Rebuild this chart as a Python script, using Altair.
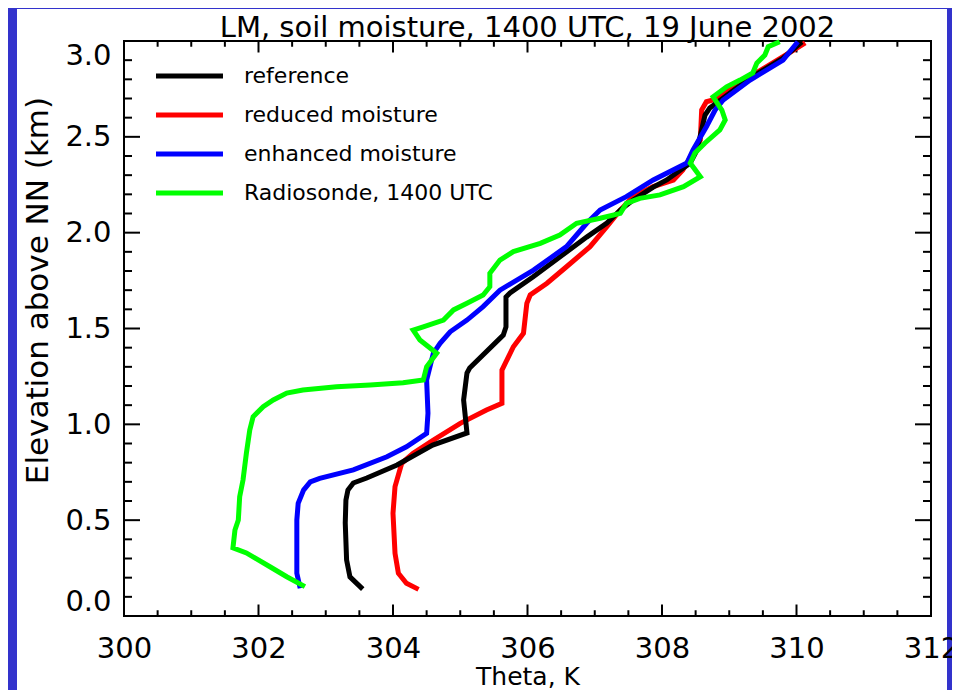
import altair as alt
import pandas as pd

# ---------------- data ----------------
series_names = ["reference", "reduced moisture", "enhanced moisture", "Radiosonde, 1400 UTC"]
series_colors = ["#000000", "#ff0000", "#0000ff", "#00ff00"]

ref_theta = [303.55, 303.36, 303.31, 303.29, 303.30, 303.33, 303.41, 303.61, 304.06, 304.59,
             305.10, 305.05, 305.10, 305.14, 305.64, 305.68, 305.68, 305.74, 306.08, 306.48,
             306.88, 307.18, 307.38, 307.57, 307.87, 308.07, 308.42, 308.52, 308.64, 308.71,
             309.31, 309.80, 310.08]
ref_z = [0.14, 0.204, 0.292, 0.485, 0.605, 0.657, 0.694, 0.72, 0.788, 0.892,
         0.955, 1.127, 1.268, 1.294, 1.466, 1.508, 1.664, 1.685, 1.769, 1.873,
         1.977, 2.05, 2.118, 2.17, 2.238, 2.275, 2.363, 2.431, 2.614, 2.65,
         2.807, 2.91, 2.995]

red_theta = [304.38, 304.20, 304.08, 304.03, 304.00, 304.03, 304.13, 304.30, 304.60, 305.00,
             305.39, 305.62, 305.62, 305.79, 305.94, 305.99, 306.04, 306.29, 306.58, 306.93,
             307.18, 307.38, 307.57, 307.87, 308.17, 308.31, 308.57, 308.59, 308.66, 308.76,
             309.31, 309.80, 310.13]
red_z = [0.139, 0.171, 0.223, 0.327, 0.536, 0.675, 0.797, 0.849, 0.918, 1.005,
         1.075, 1.11, 1.283, 1.405, 1.475, 1.631, 1.675, 1.736, 1.822, 1.927,
         2.031, 2.118, 2.188, 2.24, 2.275, 2.327, 2.483, 2.64, 2.683, 2.692,
         2.814, 2.918, 2.99]

blue_theta = [302.62, 302.57, 302.57, 302.59, 302.67, 302.77, 302.91, 303.41, 303.91, 304.20,
              304.50, 304.52, 304.50, 304.60, 304.70, 304.85, 305.10, 305.34, 305.59, 306.09,
              306.58, 306.88, 307.08, 307.47, 307.87, 308.37, 308.46, 308.66, 308.79, 308.91,
              309.31, 309.80, 310.02]
blue_z = [0.145, 0.223, 0.501, 0.588, 0.657, 0.70, 0.718, 0.762, 0.831, 0.883,
          0.953, 1.058, 1.231, 1.371, 1.423, 1.483, 1.544, 1.614, 1.70, 1.805,
          1.927, 2.049, 2.118, 2.188, 2.275, 2.363, 2.431, 2.553, 2.64, 2.692,
          2.796, 2.90, 2.996]

sonde_theta = [302.69, 302.42, 302.17, 301.82, 301.62, 301.65, 301.70, 301.72, 301.77, 301.82,
               301.87, 301.92, 302.07, 302.22, 302.42, 302.66, 303.16, 303.66, 304.15, 304.45,
               304.50, 304.65, 304.40, 304.30, 304.45, 304.75, 304.90, 305.10, 305.34, 305.44,
               305.44, 305.59, 305.79, 306.19, 306.48, 306.73, 307.08, 307.38, 307.47, 307.67,
               307.97, 308.32, 308.57, 308.42, 308.49, 308.64, 308.86, 308.94, 308.89, 308.76,
               308.96, 309.16, 309.35, 309.41, 309.53, 309.58, 309.75]
sonde_z = [0.153, 0.205, 0.257, 0.329, 0.355, 0.449, 0.501, 0.622, 0.71, 0.85,
           0.97, 1.04, 1.092, 1.127, 1.163, 1.179, 1.196, 1.205, 1.217, 1.231,
           1.30, 1.371, 1.44, 1.492, 1.509, 1.544, 1.597, 1.632, 1.675, 1.718,
           1.788, 1.857, 1.901, 1.944, 1.988, 2.049, 2.075, 2.101, 2.153, 2.179,
           2.197, 2.24, 2.292, 2.363, 2.416, 2.468, 2.536, 2.588, 2.64, 2.709,
           2.761, 2.796, 2.833, 2.885, 2.927, 2.97, 2.996]

x_labels = [300, 302, 304, 306, 308, 310, 312]
x_minor = [300.5, 301, 301.5, 302.5, 303, 303.5, 304.5, 305, 305.5, 306.5, 307, 307.5,
           308.5, 309, 309.5, 310.5, 311, 311.5]
y_labels = [0.0, 0.5, 1.0, 1.5, 2.0, 2.5, 3.0]
y_minor = [0.1, 0.2, 0.3, 0.4, 0.6, 0.7, 0.8, 0.9, 1.1, 1.2, 1.3, 1.4, 1.6, 1.7, 1.8, 1.9,
           2.1, 2.2, 2.3, 2.4, 2.6, 2.7, 2.8, 2.9]

title_text = "LM, soil moisture, 1400 UTC, 19 June 2002"
x_title = "Theta, K"
y_title = "Elevation above NN (km)"

# ---------------- layout / style ----------------
W, H = 807, 575
FONT = "DejaVu Sans"
BLUE_BG = "#3333cc"

rows = []
for name, th, zz in [(series_names[0], ref_theta, ref_z), (series_names[1], red_theta, red_z),
                     (series_names[2], blue_theta, blue_z), (series_names[3], sonde_theta, sonde_z)]:
    for i, (t, z) in enumerate(zip(th, zz)):
        rows.append({"series": name, "theta": t, "z": z, "i": i})
df = pd.DataFrame(rows)

xs = alt.Scale(domain=[300, 312], nice=False, zero=False)
ys = alt.Scale(domain=[0, 3], nice=False, zero=False)

xax = alt.Axis(values=x_labels, format="d", ticks=False, tickSize=0, domain=False, grid=False,
               labelFlush=False, labelOverlap=False, labelFontSize=29, labelFont=FONT,
               labelColor="black", labelPadding=18, titleFontSize=25, titleFont=FONT,
               titleFontWeight="normal", titleColor="black", titleBaseline="alphabetic",
               titleY=68, zindex=1)
yax = alt.Axis(values=y_labels, format=".1f", ticks=False, tickSize=0, domain=False, grid=False,
               labelFlush=True, labelOverlap=False, labelFontSize=29, labelFont=FONT,
               labelColor="black", labelPadding=13, titleFontSize=31, titleFont=FONT,
               titleFontWeight="normal", titleColor="black", titleBaseline="alphabetic",
               titleX=-77, titleY=249, zindex=1)

color_enc = alt.Color(
    "series:N",
    scale=alt.Scale(domain=series_names, range=series_colors),
    legend=alt.Legend(orient="none", legendX=38, legendY=7.5, title=None,
                      symbolType="M-1.345,0H1.345", symbolSize=2480, symbolStrokeWidth=5,
                      labelFontSize=22, labelFont=FONT, labelColor="black", labelLimit=0,
                      labelOffset=27, rowPadding=0, padding=0),
)

# white page panel behind everything
panel = alt.Chart(pd.DataFrame({"a": [0]})).mark_rect(color="white").encode(
    x=alt.value(-107), x2=alt.value(823), y=alt.value(-32), y2=alt.value(680)
)

def line_layer(name):
    return alt.Chart(df).transform_filter(alt.datum.series == name).mark_line(
        strokeWidth=5, strokeJoin="miter", strokeCap="butt"
    ).encode(
        x=alt.X("theta:Q", scale=xs, axis=xax, title=x_title),
        y=alt.Y("z:Q", scale=ys, axis=yax, title=y_title),
        color=color_enc,
        order="i:Q",
    )

def xtick_layer(vals, length, top):
    d = pd.DataFrame({"theta": vals})
    if top:
        yy, yy2 = alt.value(0), alt.value(length)
    else:
        yy, yy2 = alt.value(H), alt.value(H - length)
    return alt.Chart(d).mark_rule(color="black", strokeWidth=2).encode(
        x=alt.X("theta:Q", scale=xs, axis=xax, title=x_title), y=yy, y2=yy2)

def ytick_layer(vals, length, right):
    d = pd.DataFrame({"z": vals})
    if right:
        xx, xx2 = alt.value(W), alt.value(W - length)
    else:
        xx, xx2 = alt.value(0), alt.value(length)
    return alt.Chart(d).mark_rule(color="black", strokeWidth=2).encode(
        y=alt.Y("z:Q", scale=ys, axis=yax, title=y_title), x=xx, x2=xx2)

frame = alt.Chart(pd.DataFrame({"a": [0]})).mark_rect(
    fillOpacity=0, stroke="black", strokeWidth=2
).encode(
    x=alt.datum(300), x2=alt.datum(312), y=alt.datum(0), y2=alt.datum(3)
)

chart = alt.layer(
    panel,
    xtick_layer(x_labels, 11.5, False), xtick_layer(x_minor, 5.75, False),
    xtick_layer(x_labels, 11.5, True), xtick_layer(x_minor, 5.75, True),
    ytick_layer(y_labels, 16, False), ytick_layer(y_minor, 8, False),
    ytick_layer(y_labels, 16, True), ytick_layer(y_minor, 8, True),
    frame,
    line_layer(series_names[1]),
    line_layer(series_names[0]),
    line_layer(series_names[2]),
    line_layer(series_names[3]),
).properties(
    width=W, height=H,
    autosize=alt.AutoSizeParams(type="none"),
    padding={"left": 116, "top": 33, "right": 21, "bottom": 74},
    background=BLUE_BG,
    title=alt.TitleParams(title_text, fontSize=29, font=FONT, fontWeight="normal",
                          color="black", anchor="middle", frame="group",
                          baseline="alphabetic", offset=-57),
).configure_view(stroke=None)

chart.save("out.html", embed_options={"renderer": "svg", "actions": False})
